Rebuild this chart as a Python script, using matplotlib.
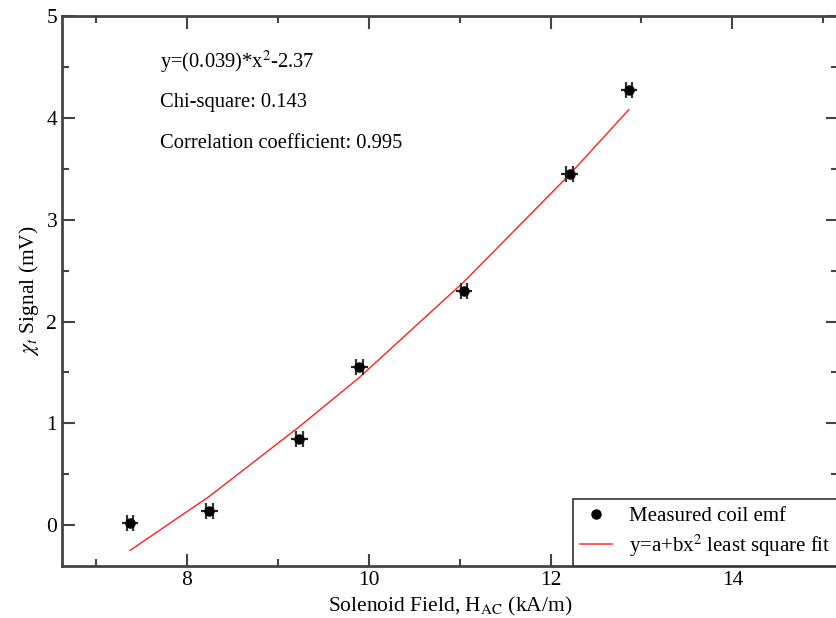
import numpy as np
import matplotlib
matplotlib.use("Agg")
import matplotlib.pyplot as plt
from matplotlib.ticker import MultipleLocator
from matplotlib.lines import Line2D

plt.rcParams['font.family'] = ['Liberation Serif', 'DejaVu Serif']
plt.rcParams['mathtext.fontset'] = 'stix'

# measured points (field in kA/m, signal in mV)
field = [7.38, 8.25, 9.24, 9.90, 11.05, 12.21, 12.86]
signal = [0.02, 0.14, 0.85, 1.55, 2.30, 3.45, 4.27]
field_err = [0.09, 0.09, 0.09, 0.09, 0.09, 0.09, 0.09]
signal_err = [0.035, 0.035, 0.035, 0.035, 0.035, 0.035, 0.035]

# least square fit y = a + b x^2, evaluated at the measured fields
fit = [-0.246, 0.284, 0.969, 1.452, 2.392, 3.444, 4.080]

fig = plt.figure(figsize=(8.36, 6.18), dpi=100)
ax = fig.add_axes([62 / 836, 52 / 618, 776 / 836, 550 / 618])

ax.plot(field, fit, color='#ff2020', lw=1.0, zorder=2)
# horizontal bar
ax.errorbar(field, signal, xerr=field_err, fmt='o', color='black', ms=6.5,
            ecolor='#222222', elinewidth=1.6, capsize=0, zorder=3)
# the short bar with tall caps that gives the "H" look
ax.errorbar(field, signal, xerr=signal_err, fmt='none', ecolor='#333333',
            elinewidth=1.4, capsize=6, capthick=1.6, zorder=3)

ax.set_xlim(6.63, 15.16)
ax.set_ylim(-0.4, 5)
ax.xaxis.set_major_locator(MultipleLocator(2))
ax.xaxis.set_minor_locator(MultipleLocator(1))
ax.yaxis.set_major_locator(MultipleLocator(1))
ax.yaxis.set_minor_locator(MultipleLocator(0.5))
ax.tick_params(which='both', direction='in', top=True, right=True,
               width=1.5, color='#444444', labelsize=15.5)
ax.tick_params(which='major', length=9)
ax.tick_params(which='minor', length=5)
for s in ax.spines.values():
    s.set_linewidth(2)
    s.set_color('#444444')

ax.set_xlabel('Solenoid Field, H$_{\\mathrm{AC}}$ (kA/m)', fontsize=15.5, labelpad=4)
ax.set_ylabel('$\\chi_t$ Signal (mV)', fontsize=15.5, labelpad=4)

ax.text(0.126, 0.917, 'y=(0.039)*x$^2$-2.37', transform=ax.transAxes, fontsize=14.8, va='center')
ax.text(0.126, 0.843, 'Chi-square: 0.143', transform=ax.transAxes, fontsize=14.8, va='center')
ax.text(0.126, 0.768, 'Correlation coefficient: 0.995', transform=ax.transAxes, fontsize=14.8, va='center')

handles = [Line2D([], [], ls='none', marker='o', color='black', ms=6.5),
           Line2D([], [], color='#ff4040', lw=1.2)]
labels = ['Measured coil emf', 'y=a+bx$^2$ least square fit']
leg = ax.legend(handles, labels, loc='lower left', bbox_to_anchor=((573 - 62) / 776, 0),
                borderaxespad=0, fontsize=15, frameon=True, fancybox=False,
                handlelength=1.5, handletextpad=0.85, borderpad=0.35, labelspacing=0.3)
leg.get_frame().set_edgecolor('#333333')
leg.get_frame().set_linewidth(1.2)
leg.get_frame().set_alpha(1)

fig.savefig('out.png', dpi=100)
